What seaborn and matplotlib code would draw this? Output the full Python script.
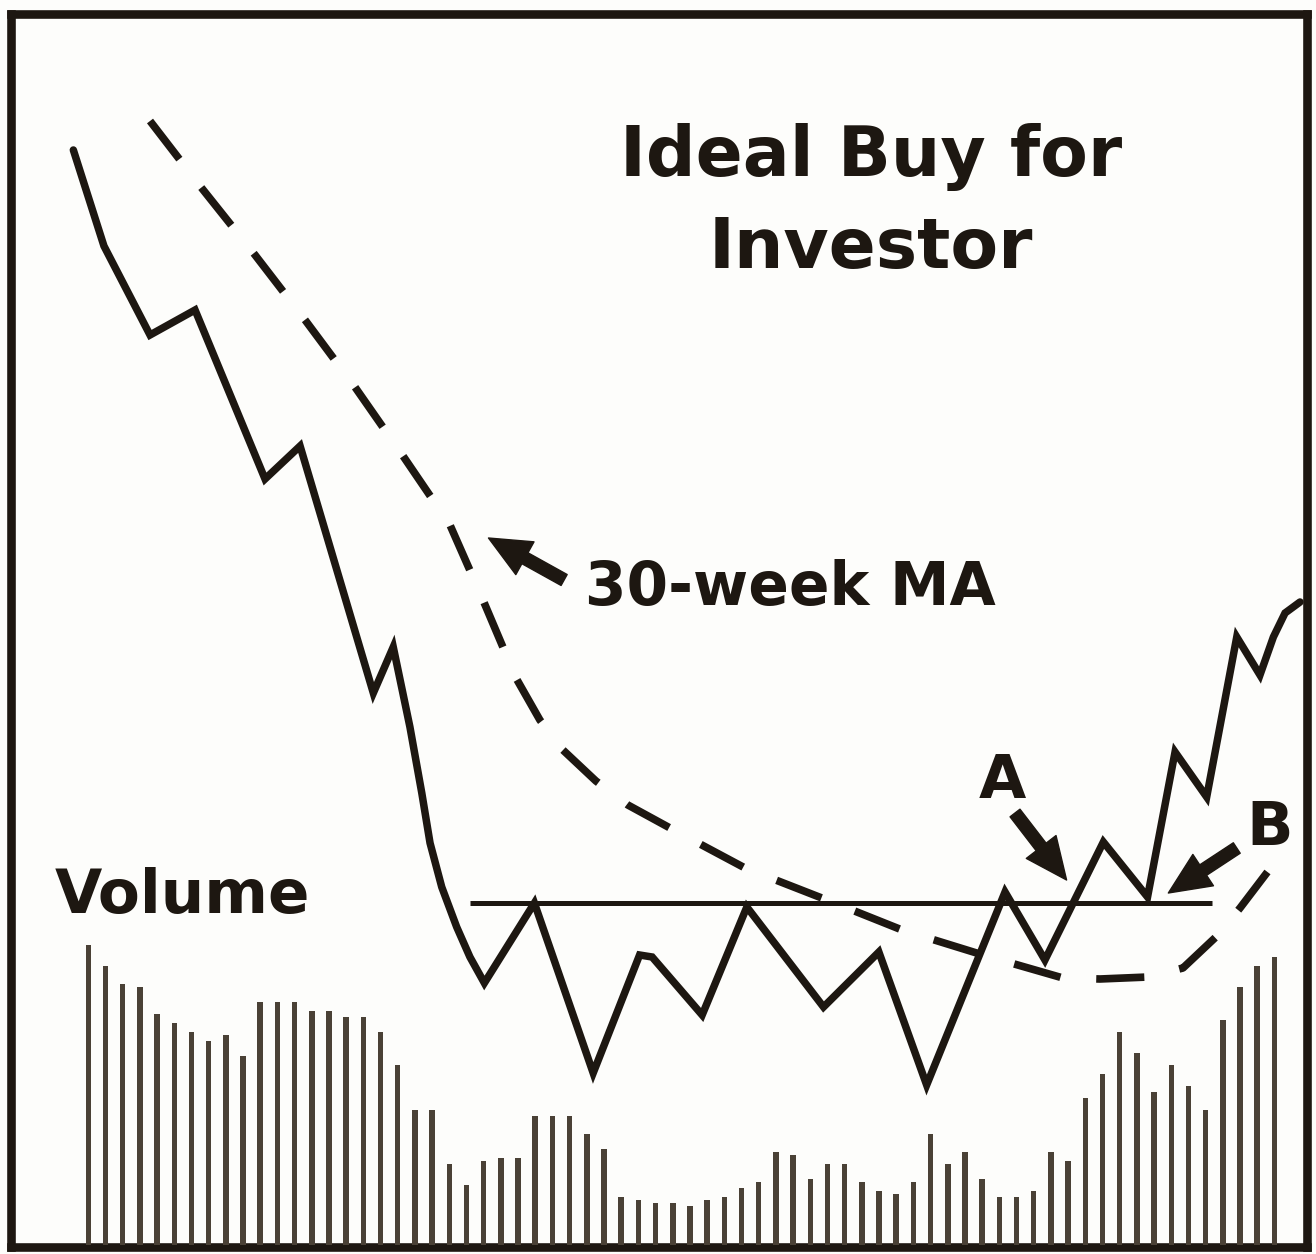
import numpy as np
import pandas as pd
import matplotlib
matplotlib.use('Agg')
import matplotlib.pyplot as plt
import seaborn as sns

# weekly volume (arbitrary units), one bar per week
weeks = np.arange(70)
volume = [100, 93, 87, 86, 77, 74, 71, 68, 70, 63, 81, 81, 81, 78, 78, 76, 76, 71, 60, 45,
          45, 27, 20, 28, 29, 29, 43, 43, 43, 37, 32, 16, 15, 14, 14, 13, 15, 16, 19, 21,
          31, 30, 22, 27, 27, 21, 18, 17, 21, 37, 27, 31, 22, 16, 16, 18, 31, 28, 49, 57,
          71, 64, 51, 60, 53, 45, 75, 86, 93, 96]

# price path (week, price)
price_week = [-0.87, 0.91, 3.59, 6.21, 10.28, 12.32, 16.58, 17.74, 18.71, 19.40, 19.88,
              20.56, 21.43, 22.20, 23.04, 25.95, 29.37, 32.07, 32.80, 35.71, 38.31, 42.77,
              45.99, 48.77, 53.33, 55.65, 59.05, 61.62, 63.22, 65.06, 66.81, 68.16, 68.94,
              69.62, 70.49]
price = [109.7, 100.1, 91.2, 93.7, 76.8, 80.1, 55.4, 60.0, 52.0, 45.4, 40.4,
         36.0, 32.0, 29.0, 26.4, 34.4, 17.4, 29.2, 29.0, 23.2, 34.0, 24.0,
         29.5, 16.2, 35.5, 28.7, 40.5, 35.0, 49.5, 45.0, 61.0, 57.2, 61.0,
         63.4, 64.5]

# 30-week moving average (week, price)
ma_week = [3.59, 6.50, 9.70, 12.61, 15.51, 18.31, 21.04, 22.96, 24.88, 26.27, 27.61, 29.53,
           31.39, 33.84, 38.20, 42.97, 47.34, 52.05, 56.70, 58.85, 61.65, 63.68, 65.72,
           67.00, 68.86]
ma = [112.6, 106.1, 99.2, 92.7, 86.0, 79.1, 72.2, 64.7, 56.9, 52.7, 49.7, 46.6,
      44.2, 41.9, 37.9, 34.7, 31.7, 29.2, 26.9, 26.8, 27.0, 27.9, 31.2,
      33.9, 38.1]

# resistance line of the base
resistance = 34.4
base_start, base_end = 22.2, 65.37

ink = '#1d1711'
bar_color = '#4a4136'

sns.set_style('white')
plt.rcParams['font.family'] = ['DejaVu Sans', 'Noto Sans']

fig = plt.figure(figsize=(13.16, 12.54), dpi=100)
fig.patch.set_facecolor('#fdfdfb')
ax = fig.add_axes([11 / 1316, 7 / 1254, 1296 / 1316, 1233 / 1254])
ax.set_facecolor('#fdfdfb')
axv = ax.twinx()

# volume bars
vol_df = pd.DataFrame({'week': weeks, 'volume': volume})
sns.barplot(data=vol_df, x='week', y='volume', native_scale=True, width=0.32,
            color=bar_color, saturation=1, linewidth=0, ax=axv)

# price line
sns.lineplot(x=price_week, y=price, sort=False, estimator=None, color=ink,
             linewidth=5.4, ax=ax)
ax.lines[-1].set_solid_joinstyle('miter')

# moving average, dashed
sns.lineplot(x=ma_week, y=ma, sort=False, estimator=None, color=ink,
             linewidth=5.5, ax=ax)
ax.lines[-1].set_dashes([6.3, 4.7])

ax.hlines(resistance, base_start, base_end, color=ink, linewidth=3.6)

ax.set_xlim(-4.497, 70.896)
ax.set_ylim(0, 123.3)
axv.set_ylim(-0.667, 410.33)
for a in (ax, axv):
    a.set_xticks([])
    a.set_yticks([])
    a.set_xlabel('')
    a.set_ylabel('')
for s in ax.spines.values():
    s.set_linewidth(6.2)
    s.set_color(ink)
for s in axv.spines.values():
    s.set_visible(False)

# labels
ax.text(45.53, 107.1, 'Ideal Buy for', ha='center', va='baseline', fontsize=50,
        fontweight='bold', color=ink)
ax.text(45.53, 97.9, 'Investor', ha='center', va='baseline', fontsize=50,
        fontweight='bold', color=ink)
ax.text(28.89, 64.2, '30-week MA', ha='left', va='baseline', fontsize=43,
        fontweight='bold', color=ink)
ax.text(-1.94, 33.4, 'Volume', ha='left', va='baseline', fontsize=44,
        fontweight='bold', color=ink)
ax.text(53.15, 44.9, 'A', ha='center', va='baseline', fontsize=44,
        fontweight='bold', color=ink)
ax.text(68.74, 40.2, 'B', ha='center', va='baseline', fontsize=44,
        fontweight='bold', color=ink)

arrow = dict(arrowstyle='simple,head_length=1.0,head_width=0.9,tail_width=0.3',
             mutation_scale=30, color=ink, shrinkA=0, shrinkB=0)
ax.annotate('', xy=(23.28, 70.9), xytext=(27.68, 66.7), arrowprops=arrow)
ax.annotate('', xy=(56.91, 36.7), xytext=(53.91, 43.4), arrowprops=arrow)
ax.annotate('', xy=(62.83, 35.4), xytext=(66.81, 39.9), arrowprops=arrow)

fig.savefig('out.png', dpi=100, facecolor=fig.get_facecolor())
